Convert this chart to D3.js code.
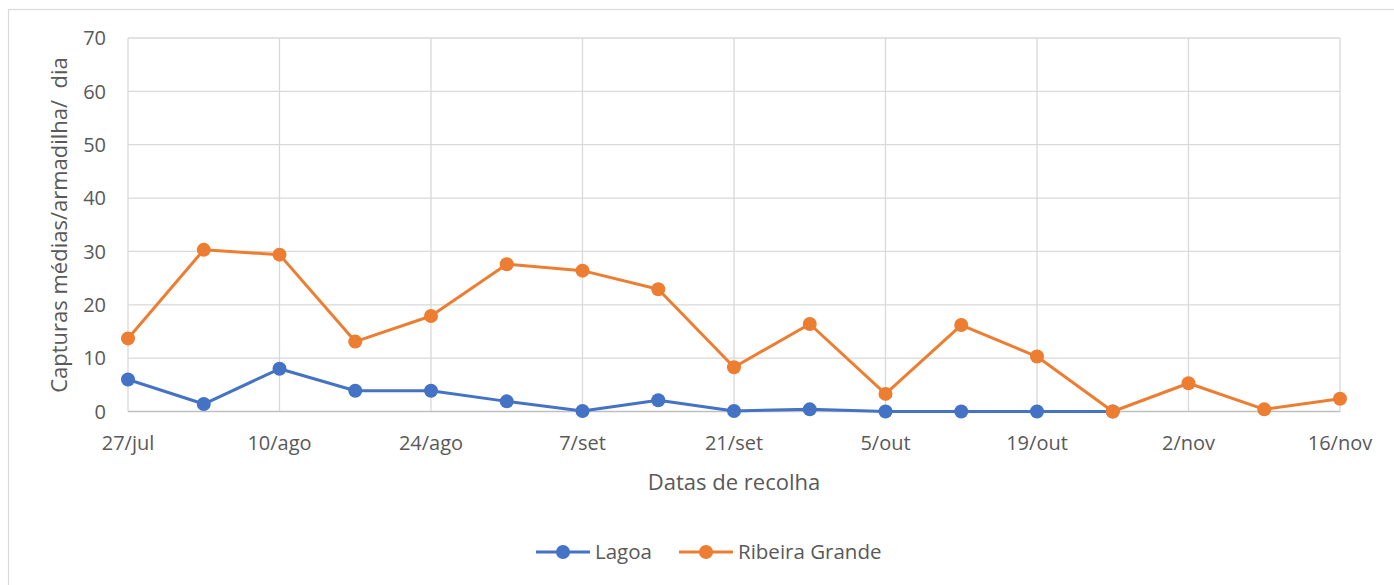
<!DOCTYPE html>
<html lang="pt">
<head>
  <meta charset="UTF-8">
  <title>Capturas médias por armadilha por dia</title>
  <style>
    body {
      margin: 0;
      background-color: #fff;
      font-family: "Open Sans", Calibri, sans-serif;
    }

    .grid line {
      stroke: #d9d9d9;
      stroke-width: 1.3;
    }

    .tick-label {
      fill: #595959;
      font-size: 20px;
    }

    .legend-label {
      fill: #595959;
      font-size: 20.5px;
    }

    .axis-title {
      fill: #595959;
      font-size: 22px;
      white-space: pre;
    }
  </style>
</head>
<body>
  <svg id="chart" width="1394" height="585"></svg>
  <script src="https://d3js.org/d3.v7.min.js"></script>
  <script>
    // collection dates (weekly) and values
    const dates = ['2020-07-27', '2020-08-03', '2020-08-10', '2020-08-17', '2020-08-24', '2020-08-31',
      '2020-09-07', '2020-09-14', '2020-09-21', '2020-09-28', '2020-10-05', '2020-10-12',
      '2020-10-19', '2020-10-26', '2020-11-02', '2020-11-09', '2020-11-16'];
    const lagoa = [6.0, 1.4, 8.0, 3.9, 3.9, 1.9, 0.1, 2.1, 0.1, 0.4, 0.0, 0.0, 0.0, 0.0];
    const ribeiraGrande = [13.7, 30.3, 29.4, 13.1, 17.9, 27.6, 26.4, 22.9, 8.3, 16.4, 3.3, 16.2, 10.3, 0.0, 5.3, 0.4, 2.4];
    const tickDates = ['2020-07-27', '2020-08-10', '2020-08-24', '2020-09-07', '2020-09-21',
      '2020-10-05', '2020-10-19', '2020-11-02', '2020-11-16'];
    const yTicks = [0, 10, 20, 30, 40, 50, 60, 70];
    const monthNames = ['jan', 'fev', 'mar', 'abr', 'mai', 'jun', 'jul', 'ago', 'set', 'out', 'nov', 'dez'];

    const series = [
      { name: 'Lagoa', values: lagoa, color: '#4472c4' },
      { name: 'Ribeira Grande', values: ribeiraGrande, color: '#ed7d31' }
    ];

    const parse = d3.utcParse('%Y-%m-%d');
    const fmt = d => d.getUTCDate() + '/' + monthNames[d.getUTCMonth()];

    const margin = { top: 38, left: 128 };
    const width = 1340 - 128;
    const height = 411.5 - 38;

    const svg = d3.select('#chart');

    // outer chart border
    svg.append('rect')
      .attr('x', 8.5)
      .attr('y', 9.5)
      .attr('width', 1400)
      .attr('height', 600)
      .attr('fill', 'none')
      .attr('stroke', '#d9d9d9')
      .attr('stroke-width', 1.2);

    const x = d3.scaleUtc()
      .domain([parse(dates[0]), parse(dates[dates.length - 1])])
      .range([0, width]);

    const y = d3.scaleLinear()
      .domain([0, 70])
      .range([height, 0]);

    const g = svg.append('g')
      .attr('transform', `translate(${margin.left}, ${margin.top})`);

    const grid = g.append('g').attr('class', 'grid');

    grid.selectAll('.hgrid')
      .data(yTicks.slice(1))
      .enter()
      .append('line')
      .attr('x1', 0)
      .attr('x2', width)
      .attr('y1', d => y(d))
      .attr('y2', d => y(d));

    grid.selectAll('.vgrid')
      .data(tickDates)
      .enter()
      .append('line')
      .attr('x1', d => x(parse(d)))
      .attr('x2', d => x(parse(d)))
      .attr('y1', 0)
      .attr('y2', height);

    // x axis baseline
    g.append('line')
      .attr('x1', 0)
      .attr('x2', width)
      .attr('y1', y(0))
      .attr('y2', y(0))
      .attr('stroke', '#bfbfbf')
      .attr('stroke-width', 1.3);

    g.selectAll('.y-label')
      .data(yTicks)
      .enter()
      .append('text')
      .attr('class', 'tick-label')
      .attr('x', -22)
      .attr('y', d => y(d))
      .attr('dy', '0.36em')
      .attr('text-anchor', 'end')
      .text(d => d);

    g.selectAll('.x-label')
      .data(tickDates)
      .enter()
      .append('text')
      .attr('class', 'tick-label')
      .attr('x', d => x(parse(d)))
      .attr('y', height + 38)
      .attr('text-anchor', 'middle')
      .text(d => fmt(parse(d)));

    const line = d3.line()
      .x((d, i) => x(parse(dates[i])))
      .y(d => y(d));

    series.forEach(s => {
      g.append('path')
        .datum(s.values)
        .attr('fill', 'none')
        .attr('stroke', s.color)
        .attr('stroke-width', 3)
        .attr('stroke-linejoin', 'round')
        .attr('d', line);

      g.selectAll(null)
        .data(s.values)
        .enter()
        .append('circle')
        .attr('cx', (d, i) => x(parse(dates[i])))
        .attr('cy', d => y(d))
        .attr('r', 7)
        .attr('fill', s.color);
    });

    svg.append('text')
      .attr('class', 'axis-title')
      .attr('x', 734)
      .attr('y', 490)
      .attr('text-anchor', 'middle')
      .text('Datas de recolha');

    svg.append('text')
      .attr('class', 'axis-title')
      .attr('transform', 'rotate(-90)')
      .attr('x', -225)
      .attr('y', 67)
      .attr('text-anchor', 'middle')
      .text('Capturas médias/armadilha/  dia');

    // legend
    const legend = svg.append('g').attr('transform', 'translate(0, 552)');
    const legendX = [536, 679];
    series.forEach((s, i) => {
      const lg = legend.append('g').attr('transform', `translate(${legendX[i]}, 0)`);
      lg.append('line')
        .attr('x1', 0)
        .attr('x2', 54)
        .attr('stroke', s.color)
        .attr('stroke-width', 3);
      lg.append('circle')
        .attr('cx', 27)
        .attr('r', 7)
        .attr('fill', s.color);
      lg.append('text')
        .attr('class', 'legend-label')
        .attr('x', 59)
        .attr('dy', '0.36em')
        .text(s.name);
    });
  </script>
</body>
</html>
